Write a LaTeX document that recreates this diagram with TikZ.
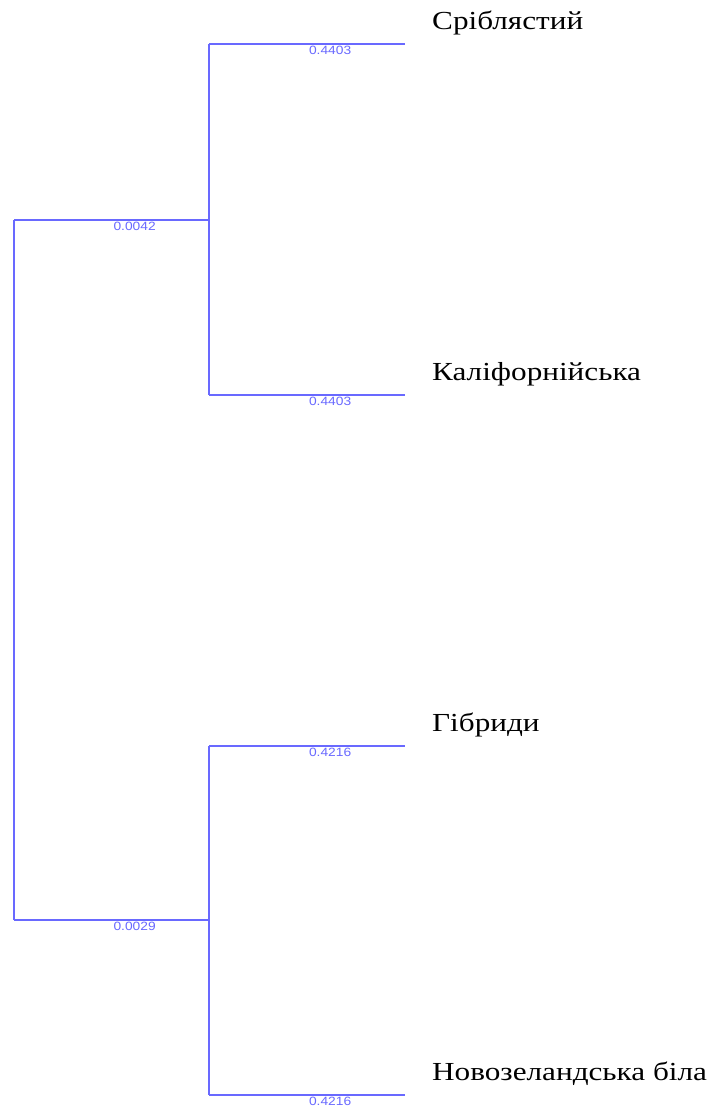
\documentclass[tikz,border=0pt]{standalone}
\usepackage{fontspec}
\setmainfont{Liberation Serif}
\newfontfamily\brfont{Liberation Sans}
\usetikzlibrary{positioning}
\definecolor{treeblue}{RGB}{105,105,255}
\tikzset{
  branch/.style={draw=treeblue, line width=2pt},
  blen/.style={font=\brfont\fontsize{12}{12}\selectfont, text=treeblue, inner sep=1pt, anchor=north west},
  taxon/.style={font=\fontsize{26}{26}\selectfont, anchor=base west, inner sep=0pt}
}
\def\leaf(#1,#2,#3,#4){
  \coordinate (#1) at (405,#2);
  \coordinate (#1_j) at (209,#2);
  \node[taxon] (#1_txt) at (432,#2-15) {\scalebox{1.2}[1]{#3}};
  \draw[branch] (#1_j) -- node[blen] {\scalebox{1.15}[1]{#4}} (#1);
}

\begin{document}
\begin{tikzpicture}[x=1pt,y=-1pt]
\useasboundingbox[fill=white] (0,0) rectangle (714,1112);
\coordinate (root_a) at (14,220);
\coordinate (root_b) at (14,920);
\coordinate (cl_a) at (209,220);
\coordinate (cl_b) at (209,920);
\leaf(sr,44,Сріблястий,0.4403)
\leaf(ka,395,Каліфорнійська,0.4403)
\leaf(gi,746,Гібриди,0.4216)
\leaf(no,1095,Новозеландська біла,0.4216)
\draw[branch] (sr_j) -- (ka_j);
\draw[branch] (gi_j) -- (no_j);
\draw[branch] (root_a) -- node[blen] {\scalebox{1.15}[1]{0.0042}} (cl_a);
\draw[branch] (root_b) -- node[blen] {\scalebox{1.15}[1]{0.0029}} (cl_b);
\draw[branch] (root_a) -- (root_b);
\end{tikzpicture}
\end{document}
